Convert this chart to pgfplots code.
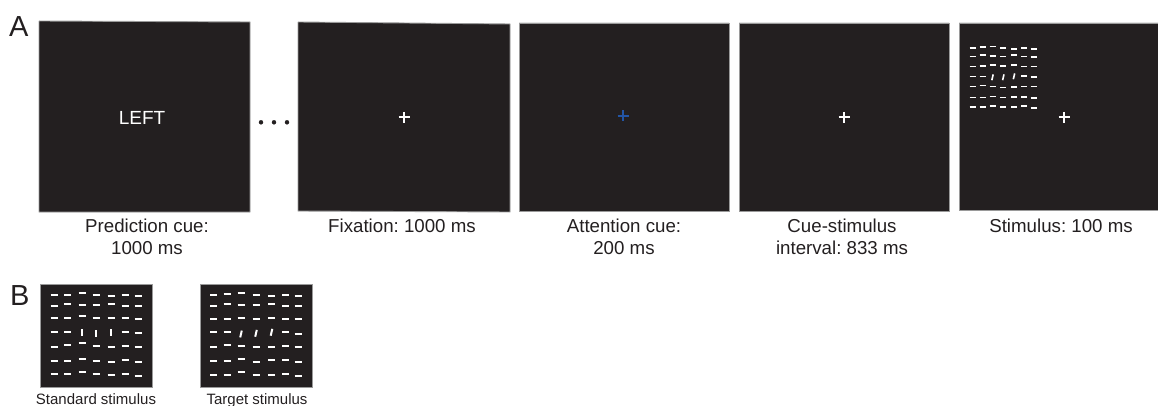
\documentclass[border=0pt]{standalone}
\usepackage{pgfplots}
\usepackage{pgfplotstable}
\usepackage{fontspec}
\setmainfont{Liberation Sans}
\pgfplotsset{compat=1.18}
\frenchspacing
\definecolor{boxc}{HTML}{231F20}
\definecolor{edgec}{HTML}{9A9A9A}
\definecolor{cueblue}{RGB}{35,85,165}

% standard stimulus (panel B, left)
\pgfplotstableread{
x y a
54 295 0
67.5 295 0
82 292.7 0
96 295 0
111 295.7 0
125 294.7 0
138 295.7 0
54 306 0
67.5 304.3 0
82 305.3 0
96 305.3 0
111 304.3 0
125 306.3 0
138 306.3 0
54 318.3 0
67.5 318.3 0
82 316 0
96 318.3 0
111 318.3 0
125 318.3 0
138 319 0
54 332.3 0
67.5 332.3 0
82 332.3 90
96 333.3 90
111 332 90
125 332.3 0
138 333 0
54 346.7 0
67.5 345.3 0
82 343.3 0
96 346 0
111 346.7 0
125 346 0
138 346.7 0
54 361 0
67.5 361 0
82 359.3 0
96 361 0
111 361.7 0
125 360.3 0
138 361.7 0
54 374.3 0
67.5 374.3 0
82 372.3 0
96 374.3 0
111 375 0
125 373.7 0
138 375.7 0
}\standard

% target stimulus (panel B, right)
\pgfplotstableread{
x y a
213.5 295 0
227 293.7 0
241 293 0
256 295 0
271.5 295.7 0
285.5 294.7 0
298 295.7 0
213.5 306 0
227 304.3 0
241 305.3 0
256 305.3 0
271.5 304.3 0
285.5 306.3 0
298 306.3 0
213.5 319.3 0
227 319.3 0
241 318 0
256 319.3 0
271.5 318.3 0
285.5 319.3 0
298 319.3 0
213.5 332.3 0
227 332.3 0
241 334 77
256 333.3 77
271.5 332.3 77
285.5 331.7 0
298 333.7 0
213.5 346.7 0
227 345.3 0
241 346 0
256 347.3 0
271.5 346.7 0
285.5 346 0
298 346.7 0
213.5 361 0
227 361 0
241 359.3 0
256 361.7 0
271.5 360.3 0
285.5 360.3 0
298 362.3 0
213.5 374.7 0
227 374.7 0
241 372.3 0
256 374.7 0
271.5 374.7 0
285.5 373.7 0
298 375.7 0
}\target

% stimulus in the trial sequence (panel A, last screen)
\pgfplotstableread{
x y a
972.5 48.3 0
982.5 47.3 0
992.5 46.7 0
1003.3 48.3 0
1014 49 0
1024 48.3 0
1033.5 49.3 0
972.5 56.7 0
982.5 55.3 0
992.5 56 0
1003.3 56.7 0
1014 55.3 0
1024 56.7 0
1033.5 57.3 0
972.5 66.7 0
982.5 66 0
992.5 65.3 0
1003.3 66 0
1014 65.3 0
1024 66.7 0
1033.5 66.7 0
972.5 76.7 0
982.5 76.7 0
992.5 77.3 77
1003.3 77.3 77
1014 76.3 77
1024 76 0
1033.5 77.3 0
972.5 86.7 0
982.5 85.7 0
992.5 86.7 0
1003.3 87.7 0
1014 87.3 0
1024 86.7 0
1033.5 86.7 0
972.5 97.7 0
982.5 97.7 0
992.5 96.7 0
1003.3 97.7 0
1014 97 0
1024 97 0
1033.5 98.3 0
972.5 107 0
982.5 107 0
992.5 106 0
1003.3 107 0
1014 107 0
1024 106 0
1033.5 108 0
}\small

\begin{document}
\begin{tikzpicture}
\begin{axis}[
  width=1158pt, height=406pt, scale only axis,
  xmin=0, xmax=1158, ymin=0, ymax=406, y dir=reverse,
  hide axis, clip=true,
]
% screens of panel A
\addplot[fill=boxc, draw=edgec, line width=0.9pt] coordinates {(39,21) (250,22) (250,212) (39,212) (39,21)};
\addplot[fill=boxc, draw=edgec, line width=0.9pt] coordinates {(298,22) (510,24) (510,212) (298,211) (298,22)};
\addplot[fill=boxc, draw=edgec, line width=0.9pt] coordinates {(519,23) (729,23) (729,211) (519,211) (519,23)};
\addplot[fill=boxc, draw=edgec, line width=0.9pt] coordinates {(739,23) (949,23) (949,211) (739,211) (739,23)};
\addplot[fill=boxc, draw=edgec, line width=0.9pt] coordinates {(959,23) (1162,23) (1162,210) (959,210) (959,23)};
% panel B screens
\addplot[fill=boxc, draw=edgec, line width=0.9pt] coordinates {(40,284) (152,284) (152,387) (40,387) (40,284)};
\addplot[fill=boxc, draw=edgec, line width=0.9pt] coordinates {(200,284) (312,284) (312,387) (200,387) (200,284)};

% ellipsis dots
\addplot[only marks, mark=*, mark size=2pt, color=boxc] coordinates {(261,122.3) (274,122.3) (287,122.3)};

% fixation crosses
\addplot[only marks, mark=+, mark size=5.5pt, mark options={white, line width=2pt}]
  coordinates {(404,117.5) (844,117.5) (1064,117.5)};
\addplot[only marks, mark=+, mark size=5.5pt, mark options={cueblue, line width=2pt}]
  coordinates {(623,116)};

% line-segment stimuli
\addplot[white, line width=2pt, -, quiver={u={7*cos(\thisrow{a})}, v={-7*sin(\thisrow{a})}}]
  table[x expr={\thisrow{x}-3.5*cos(\thisrow{a})}, y expr={\thisrow{y}+3.5*sin(\thisrow{a})}] {\standard};
\addplot[white, line width=2pt, -, quiver={u={7*cos(\thisrow{a})}, v={-7*sin(\thisrow{a})}}]
  table[x expr={\thisrow{x}-3.5*cos(\thisrow{a})}, y expr={\thisrow{y}+3.5*sin(\thisrow{a})}] {\target};
\addplot[white, line width=1.6pt, -, quiver={u={6*cos(\thisrow{a})}, v={-6*sin(\thisrow{a})}}]
  table[x expr={\thisrow{x}-3*cos(\thisrow{a})}, y expr={\thisrow{y}+3*sin(\thisrow{a})}] {\small};

% texts
\tikzset{lab/.style={anchor=base, inner sep=0pt, font=\fontsize{18.7}{22}\selectfont, text=boxc}}
\node[anchor=base west, inner sep=0pt, font=\fontsize{29}{30}\selectfont, text=boxc] at (axis cs:9,36.7) {A};
\node[anchor=base west, inner sep=0pt, font=\fontsize{29}{30}\selectfont, text=boxc] at (axis cs:10,305) {B};
\node[anchor=base, inner sep=0pt, font=\fontsize{19}{22}\selectfont, text=white] at (axis cs:142,124.3) {LEFT};
\node[lab] at (axis cs:147,232.5) {Prediction cue:};
\node[lab] at (axis cs:147,254.5) {1000 ms};
\node[lab] at (axis cs:402,232.5) {Fixation: 1000 ms};
\node[lab] at (axis cs:624,232.5) {Attention cue:};
\node[lab] at (axis cs:624,254.5) {200 ms};
\node[lab] at (axis cs:842,232.5) {Cue-stimulus};
\node[lab] at (axis cs:842,254.5) {interval: 833 ms};
\node[lab] at (axis cs:1061,232.5) {Stimulus: 100 ms};
\node[anchor=base, inner sep=0pt, font=\fontsize{15}{17}\selectfont, text=boxc] at (axis cs:96,404) {Standard stimulus};
\node[anchor=base, inner sep=0pt, font=\fontsize{15}{17}\selectfont, text=boxc] at (axis cs:257,404) {Target stimulus};
\end{axis}
\pgfresetboundingbox
\useasboundingbox (0,0) rectangle (1158pt,406pt);
\end{tikzpicture}
\end{document}
